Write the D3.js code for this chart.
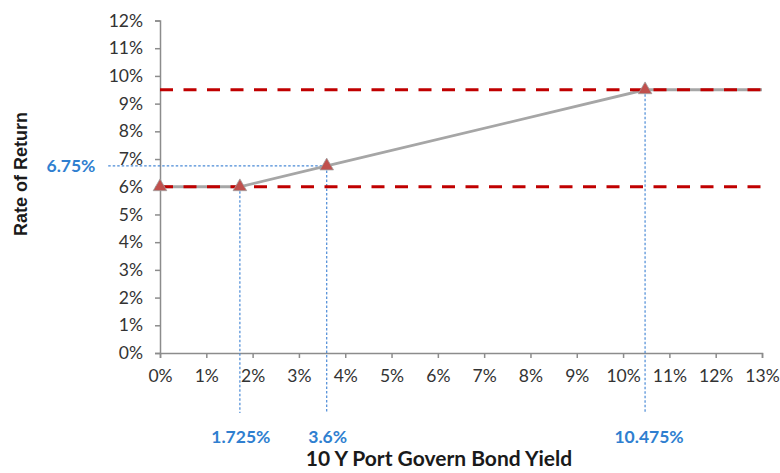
<!DOCTYPE html>
<html><head><meta charset="utf-8">
<script src="https://cdn.jsdelivr.net/npm/d3@7"></script>
<style>body{margin:0;background:#fff}svg{display:block}</style>
</head><body>
<svg id="c" width="780" height="473"></svg>
<script>
const xTicks = [0,1,2,3,4,5,6,7,8,9,10,11,12,13];
const yTicks = [0,1,2,3,4,5,6,7,8,9,10,11,12];
const lineX = [0, 1.725, 3.6, 10.475, 13];
const lineY = [6, 6, 6.75, 9.5, 9.5];
const markerX = [0, 1.725, 3.6, 10.475];
const markerY = [6, 6, 6.75, 9.5];
const refLevels = [9.5, 6];
const guideX = [1.725, 3.6, 10.475];
const guideXLabels = ["1.725%", "3.6%", "10.475%"];
const guideY = [6.75];
const guideYLabels = ["6.75%"];
const xTitle = "10 Y Port Govern Bond Yield";
const yTitle = "Rate of Return";

const svg = d3.select("#c");
const x = d3.scaleLinear().domain([0,13]).range([160,762]);
const y = d3.scaleLinear().domain([0,12]).range([353,20.5]);
const font = "Lato, 'Open Sans', sans-serif";
const axisColor = "#8c8c8c";

// axes
const xa = svg.append("g").attr("transform",`translate(0,${y(0)})`)
  .call(d3.axisBottom(x).tickValues(xTicks).tickFormat(d=>d+"%").tickSizeOuter(0).tickSize(5).tickPadding(12));
const ya = svg.append("g").attr("transform",`translate(${x(0)},0)`)
  .call(d3.axisLeft(y).tickValues(yTicks).tickFormat(d=>d+"%").tickSizeOuter(0).tickSize(5).tickPadding(12));
[xa,ya].forEach(g=>{
  g.select(".domain").attr("stroke",axisColor).attr("stroke-width",1.5);
  g.selectAll(".tick line").attr("stroke",axisColor).attr("stroke-width",1.5);
  g.selectAll(".tick text").attr("fill","#333").style("font-family",font).style("font-size","17.5px");
});

// guide lines (blue dotted)
const blue = "#4a8ad6";
svg.append("g").selectAll("line").data(guideX).join("line")
  .attr("x1",d=>x(d)).attr("x2",d=>x(d))
  .attr("y1",(d,i)=>y(lineY[lineX.indexOf(d)])).attr("y2",413)
  .attr("stroke",blue).attr("stroke-width",1.2).attr("stroke-dasharray","2.5,2");
svg.append("g").selectAll("line").data(guideY).join("line")
  .attr("x1",x(3.6)).attr("x2",108)
  .attr("y1",d=>y(d)).attr("y2",d=>y(d))
  .attr("stroke",blue).attr("stroke-width",1.2).attr("stroke-dasharray","2.5,2");

svg.append("g").selectAll("text").data(guideX).join("text")
  .attr("x",d=>x(d)).attr("dx",(d,i)=>i===2?4:1).attr("y",443).attr("text-anchor","middle")
  .attr("fill","#2f7fd0").style("font-family",font).style("font-size","17.5px").style("font-weight","bold")
  .text((d,i)=>guideXLabels[i]);
svg.append("g").selectAll("text").data(guideY).join("text")
  .attr("x",71).attr("y",d=>y(d)+6).attr("text-anchor","middle")
  .attr("fill","#2f7fd0").style("font-family",font).style("font-size","17.5px").style("font-weight","bold")
  .text((d,i)=>guideYLabels[i]);

// gray line
svg.append("path").datum(lineX.map((d,i)=>[d,lineY[i]]))
  .attr("d",d3.line().x(d=>x(d[0])).y(d=>y(d[1])))
  .attr("fill","none").attr("stroke","#a6a6a6").attr("stroke-width",2.8);

// red dashed reference lines
svg.append("g").selectAll("line").data(refLevels).join("line")
  .attr("x1",x(0)).attr("x2",x(13)).attr("y1",d=>y(d)).attr("y2",d=>y(d))
  .attr("stroke","#c00000").attr("stroke-width",3).attr("stroke-dasharray","13,10.5");

// markers
svg.append("g").selectAll("path").data(markerX).join("path")
  .attr("transform",(d,i)=>`translate(${x(d)},${y(markerY[i])})`)
  .attr("d",d3.symbol(d3.symbolTriangle,80)())
  .attr("fill","#c0504d").attr("stroke","#a0a0a0").attr("stroke-width",0.8);

// titles
svg.append("text").attr("x",439).attr("y",466).attr("text-anchor","middle")
  .style("font-family",font).style("font-size","21px").style("font-weight","bold").attr("fill","#1a1a1a")
  .text(xTitle);
svg.append("text").attr("transform","translate(27,174) rotate(-90)").attr("text-anchor","middle")
  .style("font-family","'Liberation Sans', Arial, sans-serif").style("font-size","18px").style("font-weight","bold").attr("fill","#1a1a1a")
  .text(yTitle);
</script>
</body></html>
